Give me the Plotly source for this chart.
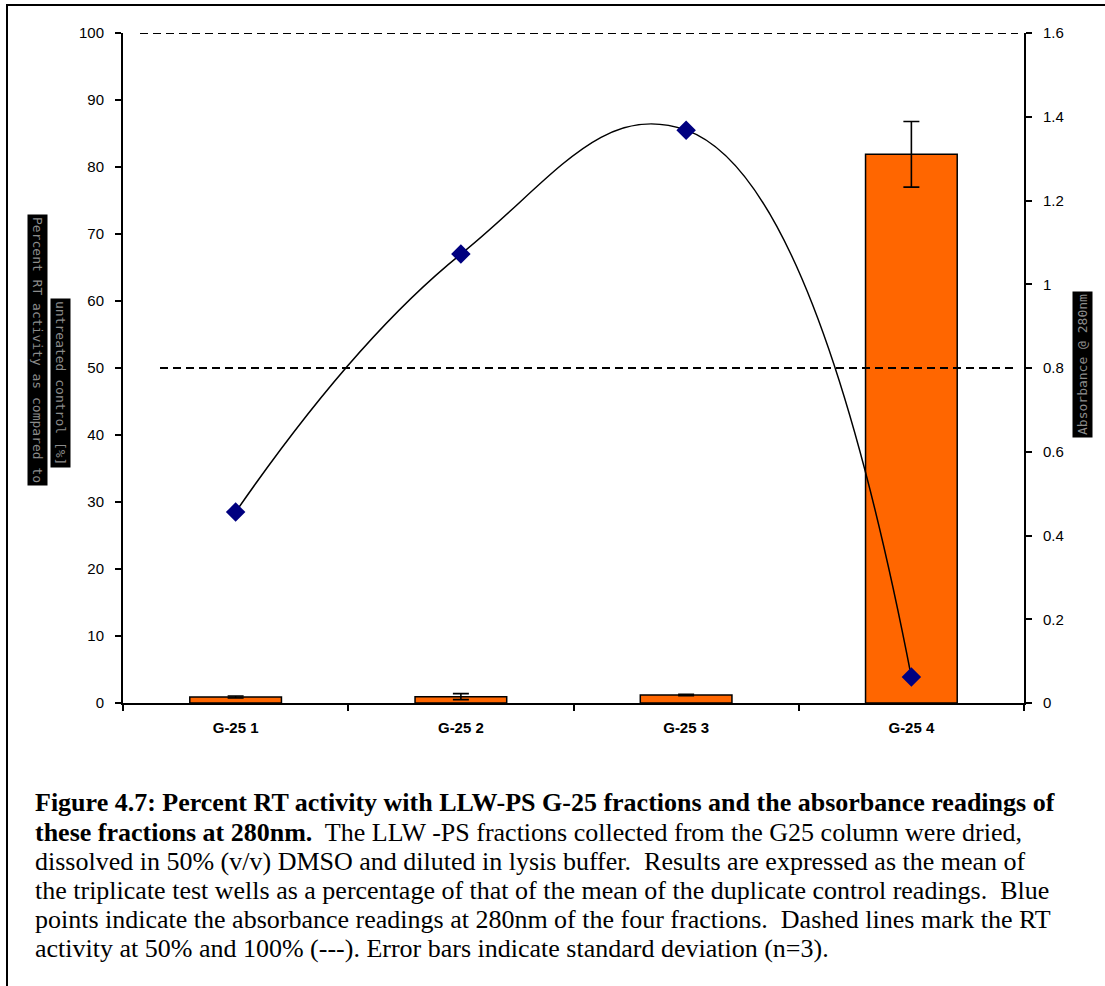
import plotly.graph_objects as go

categories = ["G-25 1", "G-25 2", "G-25 3", "G-25 4"]
rt_activity = [0.9, 0.95, 1.2, 81.9]
rt_sd = [0.15, 0.45, 0.1, 4.9]
absorbance = [0.456, 1.072, 1.368, 0.062]
left_ticks = [0, 10, 20, 30, 40, 50, 60, 70, 80, 90, 100]
right_ticks = [0, 0.2, 0.4, 0.6, 0.8, 1.0, 1.2, 1.4, 1.6]
right_tick_text = ["0", "0.2", "0.4", "0.6", "0.8", "1", "1.2", "1.4", "1.6"]
ref_levels = [50, 100]

caption_lines = [
    "<b>Figure 4.7: Percent RT activity with LLW-PS G-25 fractions and the absorbance readings of</b>",
    "<b>these fractions at 280nm.</b>  The LLW -PS fractions collected from the G25 column were dried,",
    "dissolved in 50% (v/v) DMSO and diluted in lysis buffer.  Results are expressed as the mean of",
    "the triplicate test wells as a percentage of that of the mean of the duplicate control readings.  Blue",
    "points indicate the absorbance readings at 280nm of the four fractions.  Dashed lines mark the RT",
    "activity at 50% and 100% (---). Error bars indicate standard deviation (n=3).",
]

W, H = 1105, 986
L, R, T, B = 123, 1024, 33, 703


def px(x):
    return (x - L) / (R - L)


def py(y):
    return (B - y) / (B - T)


fig = go.Figure()
fig.add_trace(go.Bar(
    x=categories, y=rt_activity, width=0.407,
    marker=dict(color="#FF6600", line=dict(color="black", width=1.5)),
    error_y=dict(type="data", array=rt_sd, color="black", thickness=1.6, width=8),
    showlegend=False,
))
fig.add_trace(go.Scatter(
    x=categories, y=absorbance, yaxis="y2", mode="lines+markers",
    line=dict(color="black", width=1.5, shape="spline", smoothing=1.3),
    marker=dict(symbol="diamond", size=15, color="#000080"),
    showlegend=False,
))

shapes = []
starts = {100: 140, 50: 160}
for lv in ref_levels:
    shapes.append(dict(type="line", xref="paper", yref="y",
                       x0=px(starts[lv]), x1=px(1018), y0=lv, y1=lv,
                       line=dict(color="black", width=2, dash="8px,5px")))
shapes.append(dict(type="rect", xref="paper", yref="paper",
                   x0=px(7), x1=px(1115), y0=py(995), y1=py(5),
                   line=dict(color="black", width=2), fillcolor="rgba(0,0,0,0)"))

annotations = []
title_font = dict(family="DejaVu Sans Mono", size=13, color="#8c8c8c")
annotations.append(dict(text="Percent RT activity as compared to", xref="paper", yref="paper",
                        x=px(37), y=py(350), xanchor="center", yanchor="middle",
                        textangle=90, showarrow=False,
                        font=title_font, bgcolor="black", borderpad=2))
annotations.append(dict(text="untreated control [%]", xref="paper", yref="paper",
                        x=px(60), y=py(383), xanchor="center", yanchor="middle",
                        textangle=90, showarrow=False,
                        font=title_font, bgcolor="black", borderpad=2))
annotations.append(dict(text="Absorbance @ 280nm", xref="paper", yref="paper",
                        x=px(1082), y=py(365), xanchor="center", yanchor="middle",
                        textangle=-90, showarrow=False,
                        font=title_font, bgcolor="black", borderpad=2))

line_y = [802, 832, 861, 890, 919, 948]
for txt, yy in zip(caption_lines, line_y):
    annotations.append(dict(text=txt, xref="paper", yref="paper",
                            x=px(33), y=py(yy), xanchor="left", yanchor="middle",
                            showarrow=False, align="left",
                            font=dict(family="Liberation Serif", size=26, color="black")))

fig.update_layout(
    width=W, height=H,
    margin=dict(l=L, r=W - R, t=T, b=H - B, pad=0),
    paper_bgcolor="white", plot_bgcolor="white",
    bargap=0.593,
    xaxis=dict(type="category", categoryorder="array", categoryarray=categories,
               range=[-0.5, 3.5], showline=True, linecolor="black", linewidth=2,
               ticks="outside", tickson="boundaries", ticklen=6, tickwidth=1.5, tickcolor="black",
               showgrid=False, zeroline=False, ticklabelstandoff=10,
               tickfont=dict(family="Liberation Sans", size=15, color="black", weight="bold")),
    yaxis=dict(range=[0, 100], tickvals=left_ticks, showline=True, linecolor="black", linewidth=2,
               ticks="outside", ticklen=6, tickwidth=1.5, tickcolor="black",
               showgrid=False, zeroline=False, ticklabelstandoff=8,
               tickfont=dict(family="Liberation Sans", size=15, color="black")),
    yaxis2=dict(range=[0, 1.6], tickvals=right_ticks, ticktext=right_tick_text,
                overlaying="y", side="right", showline=True, linecolor="black", linewidth=2,
                ticks="outside", ticklen=6, tickwidth=1.5, tickcolor="black",
                showgrid=False, zeroline=False, ticklabelstandoff=8,
                tickfont=dict(family="Liberation Sans", size=15, color="black")),
    shapes=shapes, annotations=annotations,
)

fig.write_html("out.html")
